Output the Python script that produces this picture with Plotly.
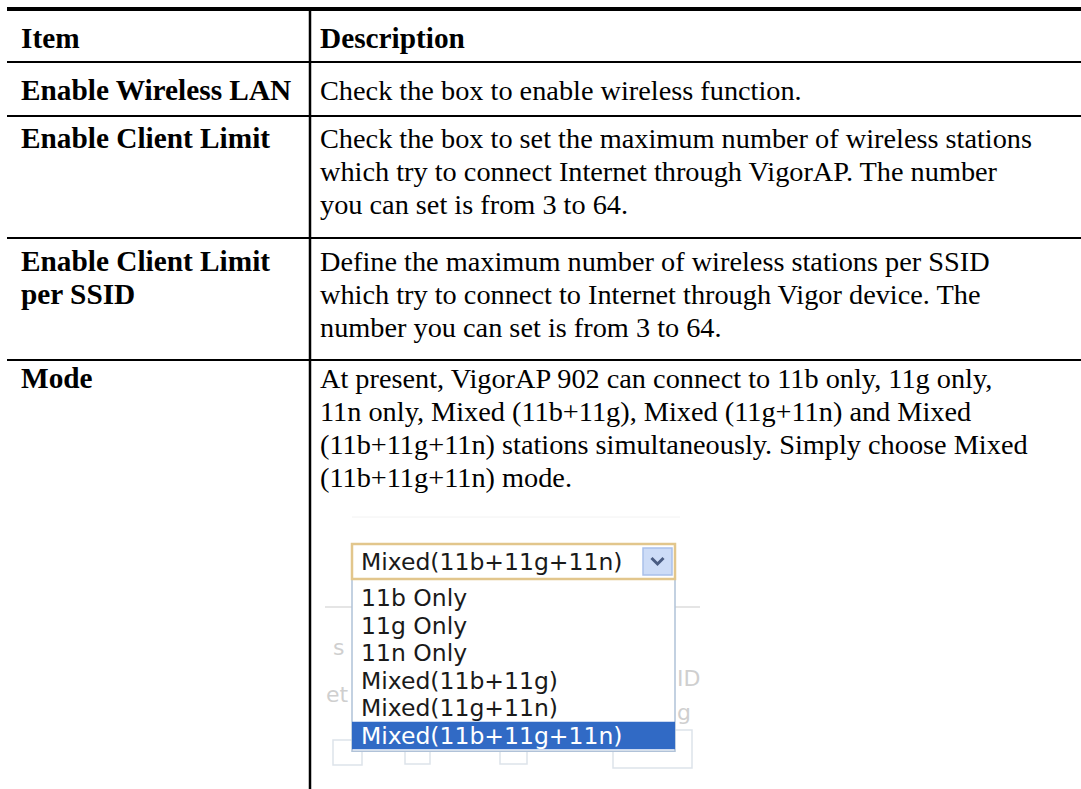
import plotly.graph_objects as go

# ---------------- data ----------------
header_item = "Item"
header_desc = "Description"

item_labels = [
    ["Enable Wireless LAN"],
    ["Enable Client Limit"],
    ["Enable Client Limit", "per SSID"],
    ["Mode"],
]

descriptions = [
    ["Check the box to enable wireless function."],
    ["Check the box to set the maximum number of wireless stations",
     "which try to connect Internet through VigorAP. The number",
     "you can set is from 3 to 64."],
    ["Define the maximum number of wireless stations per SSID",
     "which try to connect to Internet through Vigor device. The",
     "number you can set is from 3 to 64."],
    ["At present, VigorAP 902 can connect to 11b only, 11g only,",
     "11n only, Mixed (11b+11g), Mixed (11g+11n) and Mixed",
     "(11b+11g+11n) stations simultaneously. Simply choose Mixed",
     "(11b+11g+11n) mode."],
]

mode_options = ["11b Only", "11g Only", "11n Only",
                "Mixed(11b+11g)", "Mixed(11g+11n)", "Mixed(11b+11g+11n)"]
selected_mode = "Mixed(11b+11g+11n)"

# ---------------- layout constants ----------------
W, H = 1081, 789
LEFT = 7
DIV_X = 310
TOP_Y = 9
row_lines = [62, 116, 238, 360]          # bottom borders of header + rows 1-3
first_line_y = [37.5, 90, 138, 261, 378]  # header, rows
LINE_GAP = 33
COL1_X = 19
COL2_X = 318
SERIF = "Liberation Serif, Times New Roman, serif"
FS = 28.3
FS_BOLD = 29.3

# dropdown geometry
DD_X0, DD_X1 = 352, 675
DD_Y0, DD_Y1 = 544, 579
ITEM_Y0 = 598
ITEM_GAP = 27.5
UI_FONT = "DejaVu Sans, Verdana, sans-serif"
UI_FS = 23.5
UI_PAD = 7

fig = go.Figure()
fig.add_trace(go.Scatter(x=[0, W], y=[0, H], mode="markers",
                         marker=dict(opacity=0), hoverinfo="skip"))

shapes = []
annotations = []


def hline(y, width, color="black", x0=LEFT, x1=W):
    shapes.append(dict(type="line", xref="x", yref="y", x0=x0, x1=x1, y0=y, y1=y,
                       line=dict(color=color, width=width)))


def text(x, y, s, size=FS, family=SERIF, color="black", anchor="left"):
    annotations.append(dict(x=x, y=y, xref="x", yref="y", text=s, showarrow=False,
                            xanchor=anchor, yanchor="middle",
                            font=dict(family=family, size=size, color=color)))


# table borders
hline(TOP_Y, 4)
for y in row_lines:
    hline(y, 2)
shapes.append(dict(type="line", xref="x", yref="y", x0=DIV_X, x1=DIV_X, y0=TOP_Y, y1=H,
                   line=dict(color="black", width=2.5)))

# header
text(COL1_X, first_line_y[0], "<b>" + header_item + "</b>", size=FS_BOLD)
text(COL2_X, first_line_y[0], "<b>" + header_desc + "</b>", size=FS_BOLD)

# rows
for r, (labels, desc) in enumerate(zip(item_labels, descriptions)):
    y0 = first_line_y[r + 1]
    for i, lab in enumerate(labels):
        text(COL1_X, y0 + i * LINE_GAP, "<b>" + lab + "</b>", size=FS_BOLD)
    for i, d in enumerate(desc):
        text(COL2_X, y0 + i * LINE_GAP, d)

# ---------------- faint background UI (behind dropdown) ----------------
faint2 = "#cfcfcf"
hline(517, 1, color="#f2f2f2", x0=DD_X0, x1=DD_X1 + 5)
hline(607, 1.2, color="#d4d4d4", x0=325, x1=DD_X0)
hline(607, 1.2, color="#d4d4d4", x0=DD_X1, x1=700)
text(331, 647, "s", size=22, family=UI_FONT, color=faint2)
text(324, 694, "et", size=22, family=UI_FONT, color=faint2)
text(675, 678, "ID", size=22, family=UI_FONT, color=faint2)
text(675, 712, "g", size=22, family=UI_FONT, color=faint2)
for (bx0, by0, bx1, by1) in [(333, 740, 362, 765), (405, 750, 430, 764),
                             (500, 750, 527, 764), (613, 730, 692, 768)]:
    shapes.append(dict(type="rect", xref="x", yref="y", x0=bx0, x1=bx1, y0=by0, y1=by1,
                       line=dict(color="#dde3ea", width=1.5), fillcolor="rgba(0,0,0,0)",
                       layer="below"))

# ---------------- dropdown ----------------
n = len(mode_options)
list_y1 = ITEM_Y0 + (n - 0.5) * ITEM_GAP + 2
shapes.append(dict(type="rect", xref="x", yref="y", x0=DD_X0, x1=DD_X1, y0=DD_Y1, y1=list_y1,
                   line=dict(color="#b0c2d8", width=1.5), fillcolor="white"))
sel = mode_options.index(selected_mode)
cy = ITEM_Y0 + sel * ITEM_GAP
shapes.append(dict(type="rect", xref="x", yref="y", x0=DD_X0, x1=DD_X1,
                   y0=cy - ITEM_GAP / 2, y1=cy + ITEM_GAP / 2,
                   line=dict(width=0), fillcolor="#316ac5"))
shapes.append(dict(type="rect", xref="x", yref="y", x0=DD_X0, x1=DD_X1, y0=DD_Y0, y1=DD_Y1,
                   line=dict(color="#e2c68c", width=2.5), fillcolor="white"))
shapes.append(dict(type="rect", xref="x", yref="y", x0=643, x1=672, y0=DD_Y0 + 4, y1=DD_Y1 - 4,
                   line=dict(color="#a9c0ea", width=1.5), fillcolor="#cddcf7"))
shapes.append(dict(type="path", xref="x", yref="y",
                   path="M 651.5 558 L 657.5 564 L 663.5 558",
                   line=dict(color="#4a5c82", width=3)))

text(DD_X0 + UI_PAD, (DD_Y0 + DD_Y1) / 2, selected_mode, size=UI_FS, family=UI_FONT, color="#1a1a1a")
for k, opt in enumerate(mode_options):
    col = "white" if k == sel else "#1a1a1a"
    text(DD_X0 + UI_PAD, ITEM_Y0 + k * ITEM_GAP, opt, size=UI_FS, family=UI_FONT, color=col)

fig.update_layout(
    width=W, height=H,
    margin=dict(l=0, r=0, t=0, b=0),
    paper_bgcolor="white", plot_bgcolor="white",
    xaxis=dict(range=[0, W], visible=False, fixedrange=True),
    yaxis=dict(range=[H, 0], visible=False, fixedrange=True),
    shapes=shapes, annotations=annotations, showlegend=False,
)

fig.write_html("out.html", config={"displayModeBar": False},
               post_script="document.body.style.margin='0px';document.body.style.overflow='hidden';")
